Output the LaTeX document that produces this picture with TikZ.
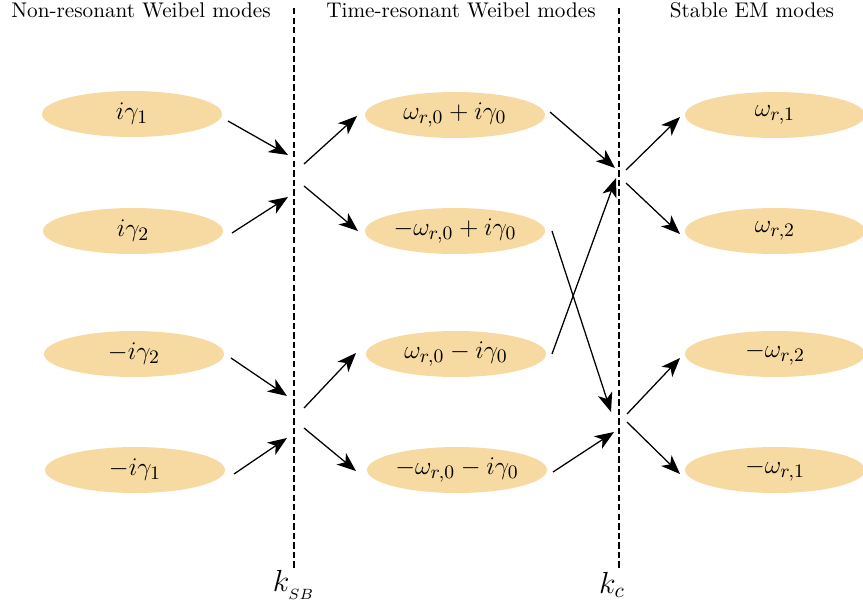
\documentclass[tikz,border=0pt]{standalone}
\usetikzlibrary{shapes.geometric,arrows.meta}
\definecolor{modefill}{RGB}{246,218,161}
\begin{document}
\begin{tikzpicture}[x=0.4717pt,y=-0.4717pt,
  mode/.style={ellipse,fill=modefill,draw=none,minimum width=84.9pt,minimum height=21.7pt,inner sep=0pt,font=\fontsize{12.7}{15}\selectfont},
  title/.style={inner sep=0pt,anchor=base},
  sep/.style={dashed,line width=0.8pt,dash pattern=on 3pt off 1.5pt},
  arr/.style={-{Stealth[length=9pt,width=7pt,inset=2.5pt]},line width=0.6pt}]
\useasboundingbox (0,0) rectangle (863,608);
% titles
\node[title] (t1) at (141,17) {Non-resonant Weibel modes};
\node[title] (t2) at (461,17) {Time-resonant Weibel modes};
\node[title] (t3) at (752,17) {Stable EM modes};
% separators
\coordinate (s1a) at (294,8); \coordinate (s1b) at (294,568);
\coordinate (s2a) at (619,8); \coordinate (s2b) at (619,568);
\draw[sep] (s1a) -- (s1b);
\draw[sep] (s2a) -- (s2b);
\node[font=\Large] (ksb) at (294,585) {$k_{_{SB}}$};
\node[font=\Large] (kc) at (612,585) {$k_c$};
% modes
\node[mode] (l1) at (132,114) {$i\gamma_1$};
\node[mode] (l2) at (133,231) {$i\gamma_2$};
\node[mode] (l3) at (134,354) {$-i\gamma_2$};
\node[mode] (l4) at (135,470) {$-i\gamma_1$};
\node[mode] (m1) at (455,115) {$\omega_{r,0}+i\gamma_0$};
\node[mode] (m2) at (455,231) {$-\omega_{r,0}+i\gamma_0$};
\node[mode] (m3) at (456,354) {$\omega_{r,0}-i\gamma_0$};
\node[mode] (m4) at (457,470) {$-\omega_{r,0}-i\gamma_0$};
\node[mode] (r1) at (775,115) {$\omega_{r,1}$};
\node[mode] (r2) at (775,231) {$\omega_{r,2}$};
\node[mode] (r3) at (775,354) {$-\omega_{r,2}$};
\node[mode] (r4) at (775,470) {$-\omega_{r,1}$};
% arrow end points
\coordinate (a1s) at (228,121); \coordinate (a1e) at (288,155);
\coordinate (a2s) at (232,233); \coordinate (a2e) at (288,197);
\coordinate (a3s) at (231,358); \coordinate (a3e) at (287,396);
\coordinate (a4s) at (234,474); \coordinate (a4e) at (287,438);
\coordinate (a5s) at (304,164); \coordinate (a5e) at (357,116);
\coordinate (a6s) at (304,186); \coordinate (a6e) at (358,231);
\coordinate (a7s) at (304,408); \coordinate (a7e) at (356,353);
\coordinate (a8s) at (304,428); \coordinate (a8e) at (356,471);
\coordinate (a9s) at (550,112); \coordinate (a9e) at (615,168);
\coordinate (a10s) at (552,231); \coordinate (a10e) at (611,412);
\coordinate (a11s) at (552,354); \coordinate (a11e) at (616,178);
\coordinate (a12s) at (553,472); \coordinate (a12e) at (614,432);
\coordinate (a13s) at (626,170); \coordinate (a13e) at (680,117);
\coordinate (a14s) at (626,183); \coordinate (a14e) at (680,234);
\coordinate (a15s) at (627,414); \coordinate (a15e) at (680,358);
\coordinate (a16s) at (627,422); \coordinate (a16e) at (680,474);
\foreach \i in {1,...,16} \draw[arr] (a\i s) -- (a\i e);
\end{tikzpicture}
\end{document}
